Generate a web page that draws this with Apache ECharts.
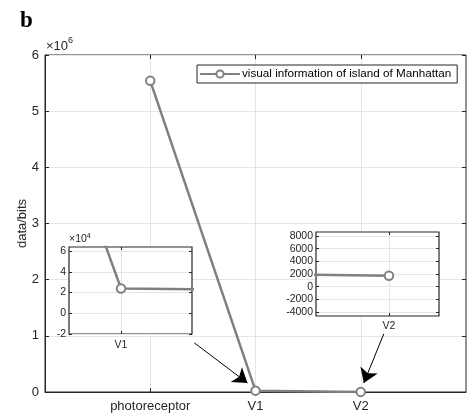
<!DOCTYPE html>
<html>
<head>
<meta charset="utf-8">
<script src="https://cdn.jsdelivr.net/npm/echarts@6/dist/echarts.min.js"></script>
<style>html,body{margin:0;padding:0;background:#fff}#c{width:470px;height:416px}</style>
</head>
<body>
<div id="c"></div>
<script>
// ---- data ----
const categories = ['photoreceptor', 'V1', 'V2'];
const dataBits = [5540000, 23900, 1725];
const seriesName = 'visual information of island of Manhattan';
const mainYTicks = [0, 1, 2, 3, 4, 5, 6];            // ×10^6
const inset1YTicks = [-2, 0, 2, 4, 6];                // ×10^4
const inset2YTicks = [-4000, -2000, 0, 2000, 4000, 6000, 8000];
// arrows (annotation, in main-axis data coords: [x, y])
const arrowFrom1 = [1.419, 875000], arrowTo1 = [1.924, 160000];
const arrowFrom2 = [3.219, 1036000], arrowTo2 = [3.029, 160000];

const positions = categories.map((c, i) => i + 1);
const points = positions.map((p, i) => [p, dataBits[i]]);

const AX = '#262626';
const GRIDC = '#e5e5e5';
const LINEC = '#808080';
const FONT = 'Liberation Sans, Arial, Helvetica, sans-serif';

const chart = echarts.init(document.getElementById('c'), null, {renderer: 'canvas'});

function lineSeries(xi, yi, z) {
  return {
    type: 'line', name: seriesName, xAxisIndex: xi, yAxisIndex: yi, z: z,
    data: points, symbol: 'emptyCircle', symbolSize: 8.5, showSymbol: true,
    lineStyle: {color: LINEC, width: 2.5},
    itemStyle: {color: LINEC, borderColor: LINEC, borderWidth: 2.5},
    clip: true, animation: false, silent: true
  };
}

const option = {
  animation: false,
  textStyle: {fontFamily: FONT},
  title: {
    text: 'b', left: 15, top: 5,
    textStyle: {fontFamily: 'Liberation Serif, Times New Roman, serif', fontWeight: 'bold', fontSize: 23, color: '#000'}
  },
  legend: {
    data: [seriesName], left: 197, top: 65,
    orient: 'horizontal',
    itemWidth: 40, itemHeight: 9, itemGap: 2,
    padding: [3, 6, 3, 2],
    borderColor: AX, borderWidth: 1, borderRadius: 0,
    backgroundColor: '#fff',
    textStyle: {fontFamily: FONT, fontSize: 11.7, color: '#000', padding: [0, 0, 0, -3]},
    z: 10
  },
  grid: [
    {left: 45, right: 4, top: 55, bottom: 24, show: true, borderColor: AX, borderWidth: 1, backgroundColor: 'transparent'},
    {left: 69, top: 247, width: 123, height: 87, show: true, borderColor: AX, borderWidth: 1.2, backgroundColor: '#fff', z: 5},
    {left: 316, top: 232, width: 123, height: 84, show: true, borderColor: AX, borderWidth: 1.2, backgroundColor: '#fff', z: 5}
  ],
  xAxis: [
    {gridIndex: 0, type: 'value', min: 0, max: 4, position: 'bottom',
      axisLine: {show: true, onZero: false, lineStyle: {color: AX}},
      axisTick: {show: true, inside: true, length: 4, customValues: positions, lineStyle: {color: AX}},
      axisLabel: {customValues: positions, formatter: v => categories[Math.round(v) - 1] || '', color: AX, fontSize: 13, margin: 8, fontFamily: FONT},
      splitLine: {show: true, lineStyle: {color: GRIDC, width: 1}}
    },
    {gridIndex: 0, type: 'value', min: 0, max: 4, position: 'top',
      axisLine: {show: false, onZero: false}, splitLine: {show: false}, axisLabel: {show: false},
      axisTick: {show: true, inside: true, length: 4, customValues: positions, lineStyle: {color: AX}}
    },
    {gridIndex: 1, type: 'value', min: 1.9748, max: 2.0344, position: 'bottom', z: 6,
      axisLine: {show: false, onZero: false},
      axisTick: {show: true, inside: true, length: 3, customValues: [positions[1]], lineStyle: {color: AX}},
      axisLabel: {customValues: [positions[1]], formatter: () => categories[1], color: AX, fontSize: 10.5, margin: 6, fontFamily: FONT},
      splitLine: {show: true, lineStyle: {color: GRIDC}}
    },
    {gridIndex: 1, type: 'value', min: 1.9748, max: 2.0344, position: 'top', z: 6,
      axisLine: {show: false, onZero: false}, axisLabel: {show: false}, splitLine: {show: false},
      axisTick: {show: true, inside: true, length: 3, customValues: [positions[1]], lineStyle: {color: AX}}
    },
    {gridIndex: 2, type: 'value', min: 2.993, max: 3.0048, position: 'bottom', z: 6,
      axisLine: {show: false, onZero: false},
      axisTick: {show: true, inside: true, length: 3, customValues: [positions[2]], lineStyle: {color: AX}},
      axisLabel: {customValues: [positions[2]], formatter: () => categories[2], color: AX, fontSize: 10.5, margin: 5, fontFamily: FONT},
      splitLine: {show: true, lineStyle: {color: GRIDC}}
    },
    {gridIndex: 2, type: 'value', min: 2.993, max: 3.0048, position: 'top', z: 6,
      axisLine: {show: false, onZero: false}, axisLabel: {show: false}, splitLine: {show: false},
      axisTick: {show: true, inside: true, length: 3, customValues: [positions[2]], lineStyle: {color: AX}}
    }
  ],
  yAxis: [
    {gridIndex: 0, type: 'value', min: 0, max: 6000000, interval: 1000000, position: 'left',
      axisLine: {show: true, onZero: false, lineStyle: {color: AX}},
      axisTick: {show: true, inside: true, length: 4, lineStyle: {color: AX}},
      axisLabel: {formatter: v => String(Math.round(v / 1e6)), color: AX, fontSize: 13, margin: 6, fontFamily: FONT},
      splitLine: {show: true, lineStyle: {color: GRIDC, width: 1}},
      name: 'data/bits', nameLocation: 'middle', nameGap: 16, nameRotate: 90, nameMoveOverlap: false,
      nameTextStyle: {color: AX, fontSize: 13, fontFamily: FONT}
    },
    {gridIndex: 0, type: 'value', min: 0, max: 6000000, interval: 1000000, position: 'right',
      axisLine: {show: false, onZero: false}, axisLabel: {show: false}, splitLine: {show: false},
      axisTick: {show: true, inside: true, length: 4, lineStyle: {color: AX}}
    },
    {gridIndex: 1, type: 'value', min: -20000, max: 64000, position: 'left', z: 6,
      axisLine: {show: false, onZero: false},
      axisTick: {show: true, inside: true, length: 3, customValues: inset1YTicks.map(v => v * 1e4), lineStyle: {color: AX}},
      axisLabel: {customValues: inset1YTicks.map(v => v * 1e4), formatter: v => String(Math.round(v / 1e4)), color: AX, fontSize: 10.5, margin: 3, fontFamily: FONT},
      splitLine: {show: true, lineStyle: {color: GRIDC}}
    },
    {gridIndex: 1, type: 'value', min: -20000, max: 64000, position: 'right', z: 6,
      axisLine: {show: false, onZero: false}, axisLabel: {show: false}, splitLine: {show: false},
      axisTick: {show: true, inside: true, length: 3, customValues: inset1YTicks.map(v => v * 1e4), lineStyle: {color: AX}}
    },
    {gridIndex: 2, type: 'value', min: -4630, max: 8630, position: 'left', z: 6,
      axisLine: {show: false, onZero: false},
      axisTick: {show: true, inside: true, length: 3, customValues: inset2YTicks, lineStyle: {color: AX}},
      axisLabel: {customValues: inset2YTicks, formatter: v => String(v), color: AX, fontSize: 10.5, margin: 3, fontFamily: FONT},
      splitLine: {show: true, lineStyle: {color: GRIDC}}
    },
    {gridIndex: 2, type: 'value', min: -4630, max: 8630, position: 'right', z: 6,
      axisLine: {show: false, onZero: false}, axisLabel: {show: false}, splitLine: {show: false},
      axisTick: {show: true, inside: true, length: 3, customValues: inset2YTicks, lineStyle: {color: AX}}
    }
  ],
  series: [
    lineSeries(0, 0, 3),
    Object.assign(lineSeries(2, 2, 7), {name: 'inset1'}),
    Object.assign(lineSeries(4, 4, 7), {name: 'inset2'}),
    {
      type: 'lines', coordinateSystem: 'cartesian2d', xAxisIndex: 0, yAxisIndex: 0, z: 8,
      symbol: ['none', 'arrow'], symbolSize: [8, 14],
      lineStyle: {color: '#000', width: 1, opacity: 1},
      data: [{coords: [arrowFrom1, arrowTo1]}, {coords: [arrowFrom2, arrowTo2]}],
      silent: true, animation: false
    }
  ],
  graphic: [
    {type: 'text', left: 46, top: 36, z: 10,
      style: {text: '{a|×10}{s|6}', rich: {a: {fontSize: 13, fontFamily: FONT, fill: AX, verticalAlign: 'bottom'}, s: {fontSize: 9, fontFamily: FONT, fill: AX, verticalAlign: 'top', padding: [0, 0, 8, 0]}}}
    },
    {type: 'text', left: 69, top: 232, z: 10,
      style: {text: '{a|×10}{s|4}', rich: {a: {fontSize: 10.5, fontFamily: FONT, fill: AX}, s: {fontSize: 7.5, fontFamily: FONT, fill: AX, padding: [0, 0, 6, 0]}}}
    }
  ]
};
chart.setOption(option);
</script>
</body>
</html>
